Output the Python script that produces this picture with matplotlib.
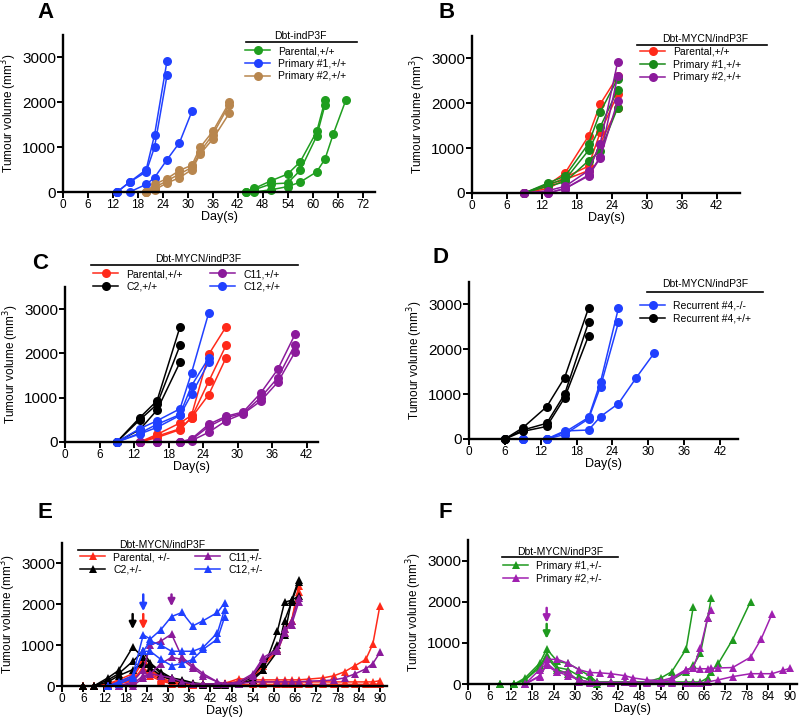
import matplotlib
matplotlib.use('Agg')
import matplotlib.pyplot as plt
from matplotlib.lines import Line2D

plt.rcParams['font.family'] = ['Liberation Sans', 'DejaVu Sans']

# ---------------- data (day, volume mm3) ----------------
# Panel A: Dbt-indP3F
A_PARENTAL = [
    ([44, 46, 50, 54, 57, 61, 63], [0, 80, 250, 400, 670, 1350, 2050]),
    ([44, 46, 50, 54, 57, 61, 63], [0, 50, 180, 200, 480, 1250, 1950]),
    ([46, 50, 54, 57, 61, 63, 65, 68], [0, 50, 120, 220, 450, 740, 1300, 2050]),
]
A_PRIMARY1 = [
    ([13, 16, 20, 22, 25], [0, 220, 500, 1270, 2920]),
    ([13, 16, 20, 22, 25], [0, 220, 450, 1000, 2600]),
    ([13, 16, 20, 22, 25, 28, 31], [0, 0, 170, 320, 720, 1100, 1800]),
]
A_PRIMARY2 = [
    ([20, 22, 25, 28, 31, 33, 36, 40], [0, 170, 300, 480, 600, 1000, 1350, 2000]),
    ([20, 22, 25, 28, 31, 33, 36, 40], [0, 100, 250, 400, 550, 900, 1280, 1950]),
    ([20, 22, 25, 28, 31, 33, 36, 40], [0, 50, 200, 320, 500, 850, 1180, 1760]),
]

# Panel B: Dbt-MYCN/indP3F
B_DAYS = [9, 13, 16, 20, 22, 25]
B_PARENTAL = [
    [0, 180, 450, 1270, 1980, 2600],
    [0, 150, 350, 600, 1350, 2200],
    [0, 100, 300, 500, 1100, 1900],
]
B_PRIMARY1 = [
    [0, 220, 380, 1100, 1800, 2550],
    [0, 200, 300, 950, 1470, 2300],
    [0, 150, 250, 720, 930, 1900],
]
B_PRIMARY2 = [
    [0, 50, 150, 500, 1100, 2920],
    [0, 0, 100, 400, 800, 2600],
    [0, 0, 100, 380, 780, 2050],
]

# Panel C: Dbt-MYCN/indP3F clones
C_PARENTAL = [
    ([13, 16, 20, 22, 25, 28], [0, 170, 430, 600, 1980, 2600]),
    ([13, 16, 20, 22, 25, 28], [0, 130, 300, 550, 1370, 2180]),
    ([13, 16, 20, 22, 25, 28], [0, 100, 280, 550, 1070, 1900]),
]
C_C2 = [
    ([9, 13, 16, 20], [0, 550, 930, 2600]),
    ([9, 13, 16, 20], [0, 500, 850, 2180]),
    ([9, 13, 16, 20], [0, 280, 720, 1800]),
]
C_C11_DAYS = [13, 16, 20, 22, 25, 28, 31, 34, 37, 40]
C_C11 = [
    [0, 0, 0, 70, 400, 580, 680, 1100, 1640, 2430],
    [0, 0, 0, 50, 350, 550, 650, 1000, 1450, 2200],
    [0, 0, 0, 30, 220, 480, 640, 920, 1350, 2030],
]
C_C12 = [
    ([9, 13, 16, 20, 22, 25], [0, 300, 480, 750, 1560, 2920]),
    ([9, 13, 16, 20, 22, 25], [0, 200, 400, 620, 1270, 1900]),
    ([9, 13, 16, 20, 22, 25], [0, 180, 330, 600, 1080, 1800]),
]

# Panel D: recurrent #4
D_KO = [
    ([9, 13, 16, 20, 22, 25], [0, 0, 150, 480, 1270, 2920]),
    ([9, 13, 16, 20, 22, 25], [0, 0, 100, 450, 1170, 2600]),
    ([6, 9, 13, 16, 20, 22, 25, 28, 31], [0, 0, 0, 180, 200, 500, 790, 1370, 1920]),
]
D_WT = [
    ([6, 9, 13, 16, 20], [0, 250, 720, 1370, 2920]),
    ([6, 9, 13, 16, 20], [0, 200, 350, 1000, 2600]),
    ([6, 9, 13, 16, 20], [0, 170, 280, 920, 2300]),
]

# Panel E: heterozygous, Dbt-MYCN/indP3F
E_EARLY = [6, 9, 13, 16, 20, 23, 25, 28, 31, 34, 37, 40, 44, 46]
E_LATE = [50, 54, 57, 61, 63, 65, 67]
E_TAIL = [70, 74, 77, 80, 83, 86, 88, 90]
E_PARENTAL = [
    (E_EARLY + E_LATE, [0, 0, 50, 150, 300, 700, 400, 200, 100, 50, 30, 20, 30, 50,
                        100, 250, 550, 900, 1400, 1600, 2450]),
    (E_EARLY + E_LATE, [0, 0, 50, 100, 250, 650, 350, 180, 80, 50, 50, 50, 50, 80,
                        100, 200, 500, 850, 1300, 1600, 2300]),
    (E_EARLY + E_LATE + E_TAIL, [0, 0, 30, 100, 200, 600, 380, 250, 150, 80, 50, 40, 50, 60,
                                 180, 150, 150, 150, 150, 150, 150,
                                 170, 200, 250, 350, 500, 650, 1030, 1970]),
    (E_EARLY + E_LATE + E_TAIL, [0, 0, 20, 80, 150, 450, 300, 150, 80, 50, 40, 30, 30, 50,
                                 100, 100, 100, 100, 100, 100, 100,
                                 100, 100, 100, 100, 100, 100, 100, 130]),
    (E_EARLY + E_LATE + E_TAIL, [0, 0, 20, 60, 120, 400, 250, 120, 60, 40, 30, 20, 20, 30,
                                 40, 40, 40, 40, 40, 40, 40,
                                 40, 40, 40, 40, 40, 40, 40, 50]),
]
E_C2 = [
    ([6, 9, 13, 16, 20, 23, 25, 28, 31, 34, 37, 40, 44, 46, 50, 54, 57, 61, 63, 65, 67],
     [0, 0, 200, 380, 950, 700, 550, 300, 200, 150, 80, 50, 50, 50, 80, 200, 400, 1350, 2050, 2100, 2600]),
    ([6, 9, 13, 16, 20, 23, 25, 28, 31, 34, 37, 40, 44, 46, 50, 54, 57, 61, 63, 65, 67],
     [0, 0, 150, 300, 600, 850, 560, 350, 200, 120, 60, 50, 40, 40, 60, 250, 550, 1000, 1250, 2100, 2200]),
    ([6, 9, 13, 16, 20, 23, 25, 28, 31, 34, 37, 40, 44, 46, 50, 54, 57, 61, 63, 65, 67],
     [0, 0, 100, 250, 400, 550, 450, 250, 150, 100, 50, 30, 30, 30, 40, 150, 380, 850, 1600, 2050, 2550]),
]
E_C11 = [
    ([13, 16, 20, 23, 25, 28, 31, 34, 37, 40, 44, 46, 50, 54, 57, 61, 63, 65, 67],
     [0, 0, 100, 400, 1000, 1100, 1270, 700, 500, 300, 100, 50, 100, 300, 700, 900, 1400, 1500, 2050]),
    ([13, 16, 20, 23, 25, 28, 31, 34, 37, 40, 44, 46, 50, 54, 57, 61, 63, 65, 67],
     [0, 0, 0, 200, 300, 550, 700, 650, 450, 250, 100, 50, 50, 250, 650, 850, 1300, 1600, 2150]),
    ([13, 16, 20, 23, 25, 28, 31, 34, 37, 40, 44, 46, 50, 54, 57, 61, 63, 65, 67, 70, 74, 77, 80, 83, 86, 88, 90],
     [0, 0, 50, 250, 300, 250, 200, 100, 50, 50, 50, 50, 60, 100, 100, 100, 100, 100, 100,
      120, 130, 150, 200, 300, 420, 550, 820]),
]
E_C12 = [
    ([13, 16, 20, 23, 25, 28, 31, 34, 37, 40, 44, 46],
     [0, 100, 250, 1250, 1150, 1380, 1700, 1800, 1470, 1600, 1800, 2030]),
    ([13, 16, 20, 23, 25, 28, 31, 34, 37, 40, 44, 46],
     [0, 50, 200, 850, 1100, 1000, 850, 850, 850, 950, 1300, 1870]),
    ([13, 16, 20, 23, 25, 28, 31, 34, 37, 40, 44, 46],
     [0, 50, 200, 850, 850, 650, 500, 550, 650, 900, 1150, 1680]),
]
# treatment arrows: day, tail, head
E_ARROWS = [(20, 1760, 1390, 'black'), (23, 1760, 1390, '#ff2a1a'),
            (23, 2240, 1830, '#2040ff'), (31, 2240, 1950, '#8b1a9b')]

# Panel F
F_PRIMARY1 = [
    ([9, 13, 16, 20, 22, 25, 28, 31, 34, 36, 40, 44, 46, 50, 54, 57, 61, 63],
     [0, 0, 150, 500, 850, 550, 500, 350, 200, 50, 50, 50, 50, 50, 150, 300, 850, 1880]),
    ([9, 13, 16, 20, 22, 25, 28, 31, 34, 36, 40, 44, 46, 50, 54, 57, 61, 63, 65, 67, 68],
     [0, 0, 100, 450, 700, 400, 350, 200, 100, 50, 50, 50, 50, 50, 50, 100, 300, 450, 750, 1600, 2080]),
    ([9, 13, 16, 20, 22, 25, 28, 31, 34, 36, 40, 44, 46, 50, 54, 57, 61, 63, 65, 67, 68, 70, 74, 79],
     [0, 0, 100, 400, 650, 350, 250, 100, 50, 0, 30, 40, 40, 40, 50, 50, 50, 50, 50, 150, 300, 500, 1080, 2000]),
]
F_PRIMARY2 = [
    ([16, 20, 22, 25, 28, 31, 34, 36, 40, 44, 46, 50, 54, 57, 61, 63, 65, 67, 68],
     [0, 180, 500, 300, 200, 100, 50, 40, 40, 40, 40, 40, 60, 100, 350, 400, 880, 1600, 1800]),
    ([16, 20, 22, 25, 28, 31, 34, 37, 40, 44, 46, 50, 54, 57, 61, 63, 65, 67, 68, 70, 74, 79, 82, 85],
     [0, 350, 600, 600, 500, 350, 280, 270, 250, 200, 150, 100, 80, 150, 350, 380, 370, 370, 380, 390, 400, 650, 1100, 1700]),
    ([16, 20, 22, 25, 28, 31, 34, 40, 46, 50, 54, 57, 61, 63, 65, 67, 70, 74, 79, 82, 85, 88, 90],
     [0, 200, 450, 280, 300, 50, 30, 30, 30, 30, 30, 30, 30, 30, 30, 50, 100, 180, 250, 250, 250, 330, 380]),
]
F_ARROWS = [(22, 1850, 1490, '#a020b0'), (22, 1460, 1100, '#1f9a1f')]

GREEN = '#1f9e1f'
BLUE = '#2040ff'
TAN = '#b8864e'
RED = '#ff2a1a'
PURPLE = '#8b1a9b'
MAGENTA = '#a020b0'

W, H = 800, 721
fig = plt.figure(figsize=(8, 7.21), dpi=100)


def _px_axes(left, top, right, bottom):
    """ Creates an axes from pixel coordinates of the reference. """
    return fig.add_axes([left / W, 1 - bottom / H, (right - left) / W, (bottom - top) / H])


def _style(ax, xmax, xticks):
    ax.set_xlim(0, xmax)
    ax.set_ylim(0, 3500)
    ax.set_xticks(xticks)
    ax.set_yticks([0, 1000, 2000, 3000])
    for side in ['top', 'right']:
        ax.spines[side].set_visible(False)
    for side in ['left', 'bottom']:
        ax.spines[side].set_linewidth(1.7)
    ax.tick_params(axis='both', width=1.4, length=4, direction='out')
    ax.tick_params(axis='y', labelsize=11, pad=1)
    ax.tick_params(axis='x', labelsize=8.5, pad=1)
    ax.set_xlabel('Day(s)', fontsize=9, labelpad=0)
    ax.set_ylabel('Tumour volume (mm$^3$)', fontsize=8.5, labelpad=2)


def _plot_group(ax, reps, color, label, marker='o', ms=6.5):
    """ Plots the replicates of one group, labelling only the first. """
    handle = None
    for days, vals in reps:
        l, = ax.plot(days, vals, color=color, marker=marker, ms=ms, lw=1.1, clip_on=False,
                     markeredgewidth=0)
        if handle is None:
            handle = l
    handle.set_label(label)
    return handle


def _legend(ax, handles, title, tx, ty, ux0, ux1, uy, lx, ly, ncol=1, colsp=2.0):
    """ Draws the underlined legend title and the entries below it. """
    fig.text(tx / W, 1 - ty / H, title, ha='center', va='center', fontsize=7.5)
    fig.add_artist(Line2D([ux0 / W, ux1 / W], [1 - uy / H, 1 - uy / H], color='black', lw=1.2))
    ax.legend(handles=handles, loc='upper left', bbox_to_anchor=(lx / W, 1 - ly / H),
              bbox_transform=fig.transFigure, ncol=ncol, frameon=False, fontsize=7.5,
              borderpad=0, borderaxespad=0, handlelength=2.4, handletextpad=0.8,
              labelspacing=0.25, columnspacing=colsp)


def _arrows(ax, arrows):
    for day, tail, head, color in arrows:
        ax.annotate('', xy=(day, head), xytext=(day, tail),
                    arrowprops=dict(arrowstyle='-|>', color=color, lw=1.8, mutation_scale=10,
                                    shrinkA=0, shrinkB=0))


# ---- A ----
axA = _px_axes(63, 35, 375, 192)
_style(axA, 75, range(0, 73, 6))
hA = [_plot_group(axA, A_PARENTAL, GREEN, 'Parental,+/+'),
      _plot_group(axA, A_PRIMARY1, BLUE, 'Primary #1,+/+'),
      _plot_group(axA, A_PRIMARY2, TAN, 'Primary #2,+/+')]
_legend(axA, hA, 'Dbt-indP3F', 300, 36, 246, 357, 42, 245, 46)

# ---- B ----
axB = _px_axes(472, 36, 740, 193)
_style(axB, 46, range(0, 43, 6))
hB = [_plot_group(axB, [(B_DAYS, v) for v in B_PARENTAL], RED, 'Parental,+/+'),
      _plot_group(axB, [(B_DAYS, v) for v in B_PRIMARY1], '#1a8a1a', 'Primary #1,+/+'),
      _plot_group(axB, [(B_DAYS, v) for v in B_PRIMARY2], PURPLE, 'Primary #2,+/+')]
_legend(axB, hB, 'Dbt-MYCN/indP3F', 705, 39, 637, 767, 45, 640, 47)

# ---- C ----
axC = _px_axes(65, 287, 318, 442)
_style(axC, 44, range(0, 43, 6))
hC = [_plot_group(axC, C_PARENTAL, RED, 'Parental,+/+'),
      _plot_group(axC, C_C2, 'black', 'C2,+/+'),
      _plot_group(axC, [(C_C11_DAYS, v) for v in C_C11], PURPLE, 'C11,+/+'),
      _plot_group(axC, C_C12, BLUE, 'C12,+/+')]
_legend(axC, hC, 'Dbt-MYCN/indP3F', 198, 259, 91, 298, 265, 93, 269, ncol=2, colsp=2.6)

# ---- D ----
axD = _px_axes(469, 282, 738, 439)
_style(axD, 45, range(0, 43, 6))
hD = [_plot_group(axD, D_KO, BLUE, 'Recurrent #4,-/-'),
      _plot_group(axD, D_WT, 'black', 'Recurrent #4,+/+')]
_legend(axD, hD, 'Dbt-MYCN/indP3F', 705, 284, 647, 763, 292, 640, 301)

# ---- E ----
axE = _px_axes(62, 543, 387, 686)
_style(axE, 92, range(0, 91, 6))
hE = [_plot_group(axE, E_PARENTAL, RED, 'Parental, +/-', marker='^', ms=6),
      _plot_group(axE, E_C2, 'black', 'C2,+/-', marker='^', ms=6),
      _plot_group(axE, E_C11, PURPLE, 'C11,+/-', marker='^', ms=6),
      _plot_group(axE, E_C12, BLUE, 'C12,+/-', marker='^', ms=6)]
_arrows(axE, E_ARROWS)
_legend(axE, hE, 'Dbt-MYCN/indP3F', 162, 545, 78, 258, 550, 80, 552, ncol=2, colsp=2.4)

# ---- F ----
axF = _px_axes(468, 540, 797, 684)
_style(axF, 92, range(0, 91, 6))
hF = [_plot_group(axF, F_PRIMARY1, '#1f9a1f', 'Primary #1,+/-', marker='^', ms=6),
      _plot_group(axF, F_PRIMARY2, MAGENTA, 'Primary #2,+/-', marker='^', ms=6)]
_arrows(axF, F_ARROWS)
_legend(axF, hF, 'Dbt-MYCN/indP3F', 560, 552, 502, 618, 557, 503, 561)

# panel letters
for letter, x, y in [('A', 45, 12), ('B', 447, 12), ('C', 40, 263), ('D', 440, 257),
                     ('E', 45, 513), ('F', 445, 513)]:
    fig.text(x / W, 1 - y / H, letter, fontsize=16, fontweight='bold', ha='center', va='center')

fig.savefig('out.png', dpi=100)
